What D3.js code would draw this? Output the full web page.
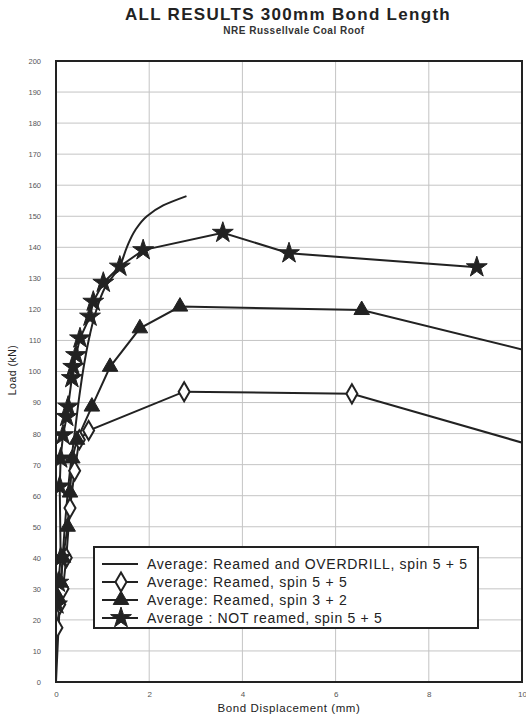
<!DOCTYPE html>
<html>
<head>
<meta charset="utf-8">
<script src="https://cdn.jsdelivr.net/npm/d3@7"></script>
<style>
  body { margin: 0; background: #fff; }
  svg { font-family: "Liberation Sans", Arial, sans-serif; }
</style>
</head>
<body>
<svg id="chart" width="526" height="714"></svg>
<script>
// displacement (mm) / load (kN)
let overdrill_x = [0, 0.1, 0.2, 0.3, 0.4, 0.5, 0.6, 0.7, 0.85, 1.05, 1.37, 1.52, 1.7, 1.95, 2.3, 2.8]
let overdrill_y = [0, 30, 52, 68, 80, 92, 102, 110, 119, 127, 134, 140, 145.5, 150, 153.5, 156.5]

let reamed55_x = [0.02, 0.08, 0.15, 0.22, 0.3, 0.4, 0.5, 0.7, 2.75, 6.35, 12]
let reamed55_y = [17.5, 25, 30, 40, 56, 68, 78, 81, 93.5, 92.8, 68.5]

let reamed32_x = [0.05, 0.1, 0.15, 0.25, 0.3, 0.35, 0.45, 0.77, 1.16, 1.8, 2.66, 6.56, 12]
let reamed32_y = [27, 32, 40, 50, 61, 72, 78, 88.7, 101.5, 113.9, 120.9, 119.8, 99.7]

let notreamed_x = [0.02, 0.05, 0.1, 0.08, 0.1, 0.15, 0.23, 0.26, 0.34, 0.37, 0.43, 0.515, 0.73, 0.8, 1.015, 1.37, 1.87, 3.58, 5.0, 9.03]
let notreamed_y = [25, 32, 40, 63, 72, 79.5, 85.4, 88.7, 97.9, 101.5, 105.3, 110.7, 117.7, 122.5, 128.6, 133.8, 139.1, 144.7, 138.1, 133.6]

let x_ticks = [0, 2, 4, 6, 8, 10]
let y_ticks = d3.range(0, 201, 10)

let series_names = [
    "Average: Reamed and OVERDRILL, spin 5 + 5",
    "Average: Reamed, spin 5 + 5",
    "Average: Reamed, spin 3 + 2",
    "Average : NOT reamed, spin 5 + 5"
]
let series_marks = ["none", "diamond", "triangle", "star"]

let series = [
    [overdrill_x, overdrill_y],
    [reamed55_x, reamed55_y],
    [reamed32_x, reamed32_y],
    [notreamed_x, notreamed_y]
].map((s, i) => ({
    name: series_names[i],
    mark: series_marks[i],
    points: s[0].map((x, j) => ({x: x, y: s[1][j]}))
}))

let svg = d3.select("#chart"),
    m_left = 56, m_right = 522, m_top = 61, m_bottom = 682

let x = d3.scaleLinear().domain([0, 10]).range([m_left, m_right])
let y = d3.scaleLinear().domain([0, 200]).range([m_bottom, m_top])

svg.append("text")
    .attr("x", 288).attr("y", 20)
    .attr("text-anchor", "middle")
    .style("font-size", "17px").style("font-weight", "bold").style("letter-spacing", "1.3px").style("fill", "#222")
    .text("ALL RESULTS 300mm Bond Length")
svg.append("text")
    .attr("x", 294).attr("y", 34)
    .attr("text-anchor", "middle")
    .style("font-size", "10px").style("font-weight", "bold").style("letter-spacing", "0.5px").style("fill", "#333")
    .text("NRE Russellvale Coal Roof")

// grid
svg.append("g")
    .selectAll("line").data(y_ticks).enter().append("line")
    .attr("x1", m_left).attr("x2", m_right)
    .attr("y1", d => y(d)).attr("y2", d => y(d))
    .style("stroke", "#c4c4c4").style("stroke-width", 1)
svg.append("g")
    .selectAll("line").data(x_ticks).enter().append("line")
    .attr("x1", d => x(d)).attr("x2", d => x(d))
    .attr("y1", m_top).attr("y2", m_bottom)
    .style("stroke", "#c4c4c4").style("stroke-width", 1)

// axes (labels only, the frame is drawn below)
let yaxis = svg.append("g").attr("transform", "translate(" + (m_left - 12) + ",0)")
    .call(d3.axisLeft(y).tickValues(y_ticks).tickSize(0).tickFormat(d3.format("d")))
let xaxis = svg.append("g").attr("transform", "translate(0," + (m_bottom + 6) + ")")
    .call(d3.axisBottom(x).tickValues(x_ticks).tickSize(0).tickFormat(d3.format("d")))
svg.selectAll(".domain").remove()
yaxis.attr("font-family", null).selectAll("text").style("font-size", "7.5px").style("fill", "#555")
xaxis.attr("font-family", null).selectAll("text").style("font-size", "8px").style("fill", "#555")

svg.append("text")
    .attr("x", 289).attr("y", 712)
    .attr("text-anchor", "middle")
    .style("font-size", "11.5px").style("letter-spacing", "0.6px").style("fill", "#222")
    .text("Bond Displacement (mm)")
svg.append("text")
    .attr("transform", "translate(16,370)rotate(-90)")
    .attr("text-anchor", "middle")
    .style("font-size", "10.5px").style("letter-spacing", "0.5px").style("fill", "#222")
    .text("Load (kN)")

svg.append("clipPath").attr("id", "plotclip")
    .append("rect").attr("x", m_left).attr("y", m_top).attr("width", m_right - m_left).attr("height", m_bottom - m_top)

let symbols = {
    diamond: d3.symbol().type(d3.symbolDiamond).size(105),
    triangle: d3.symbol().type(d3.symbolTriangle).size(105),
    star: d3.symbol().type(d3.symbolStar).size(135)
}

function draw_mark(sel, mark){
    if(mark == "none") return
    sel.append("path")
        .attr("d", symbols[mark]())
        .style("fill", mark == "diamond" ? "#fff" : "#222")
        .style("stroke", "#222")
        .style("stroke-width", mark == "diamond" ? 2 : 1)
}

let line = d3.line().x(d => x(d.x)).y(d => y(d.y))
let plot = svg.append("g").attr("clip-path", "url(#plotclip)")

series.forEach(s => {
    plot.append("path")
        .attr("d", s.mark == "none" ? line.curve(d3.curveMonotoneY)(s.points) : line.curve(d3.curveLinear)(s.points))
        .style("fill", "none").style("stroke", "#222").style("stroke-width", 2)
})
series.forEach(s => {
    plot.selectAll(null).data(s.points).enter().append("g")
        .attr("transform", d => "translate(" + x(d.x) + "," + y(d.y) + ")")
        .each(function(){ draw_mark(d3.select(this), s.mark) })
})

// frame
svg.append("rect")
    .attr("x", m_left).attr("y", m_top).attr("width", m_right - m_left).attr("height", m_bottom - m_top)
    .style("fill", "none").style("stroke", "#222").style("stroke-width", 2)

// legend
let legend = svg.append("g").attr("transform", "translate(94,547)")
legend.append("rect")
    .attr("width", 384).attr("height", 81)
    .style("fill", "#fff").style("stroke", "#222").style("stroke-width", 2)
let rows = legend.selectAll("g.row").data(series).enter().append("g")
    .attr("class", "row")
    .attr("transform", (d, i) => "translate(0," + (17 + i * 18) + ")")
rows.append("line")
    .attr("x1", 8).attr("x2", 44)
    .style("stroke", "#222").style("stroke-width", 2)
rows.append("g").attr("transform", "translate(27,0)")
    .each(function(d){ draw_mark(d3.select(this), d.mark) })
rows.append("text")
    .attr("x", 53).attr("y", 5)
    .style("font-size", "14px").style("letter-spacing", "0.7px").style("fill", "#222")
    .text(d => d.name)
</script>
</body>
</html>
